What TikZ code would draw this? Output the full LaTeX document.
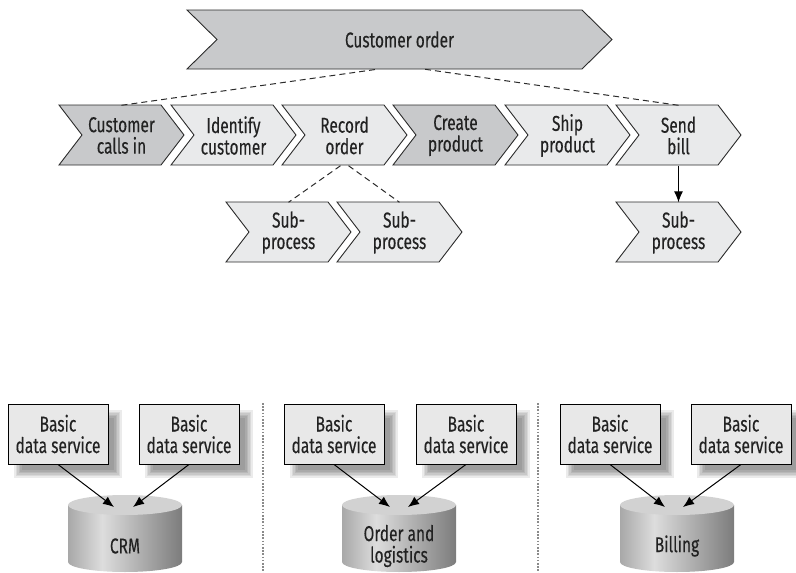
\documentclass[tikz,border=0pt]{standalone}
\usepackage{fontspec}
\setmainfont[FakeStretch=0.72,FakeBold=0.25]{Fira Sans}
\usetikzlibrary{arrows.meta}
\definecolor{chevdark}{HTML}{C8C9CB}
\definecolor{chevlight}{HTML}{E9EAEB}
\definecolor{boxfill}{HTML}{E8E8E8}
\definecolor{lineclr}{HTML}{2B2B2B}
\definecolor{txtclr}{HTML}{222222}
\definecolor{cylA}{HTML}{A8A8A8}
\definecolor{cylB}{HTML}{DDDDDD}
\definecolor{cylC}{HTML}{7C7C7C}
\definecolor{cyltop}{HTML}{D2D2D2}
\definecolor{sepclr}{HTML}{8A8A8A}
\pgfdeclarehorizontalshading{cylbody}{100bp}{color(0bp)=(cylA); color(25bp)=(cylA); color(40bp)=(cylB); color(75bp)=(cylC); color(100bp)=(cylC)}
\tikzset{
  chevline/.style={draw=lineclr, line width=0.9pt, line join=miter},
  labelfont/.style={font=\fontsize{21.5}{21.5}\selectfont, text=txtclr},
  chevtext/.style={labelfont, align=center, inner sep=0pt, minimum width=79pt, minimum height=60pt},
  dashline/.style={draw=lineclr, line width=1pt, dash pattern=on 6pt off 4pt},
  arrowline/.style={draw=black, line width=1pt, -{Latex[length=11pt,width=9pt]}},
  dbox/.style={labelfont, draw=black, fill=boxfill, line width=0.9pt, align=center, inner sep=0pt, minimum width=100pt, minimum height=60pt},
  cyltext/.style={labelfont, align=center, inner sep=0pt},
  sepline/.style={draw=sepclr, line width=1.6pt, dash pattern=on 1.6pt off 1.6pt}
}
% chevron: name, left x, top y, fill, text
\newcommand\chev[5]{%
  \filldraw[chevline,fill=#4] (#2,#3) -- ++(102,0) -- ++(23,30) -- ++(-23,30) -- ++(-102,0) -- ++(23,-30) -- cycle;
  \node[chevtext] (#1) at ({#2+62.5},{#3+30.5}) {#5};}
% data service box with soft shadow: name, cx, cy
\newcommand\dsbox[3]{%
  \foreach \e in {4,2.4,0.8,-0.8,-2.4,-4}{%
    \fill[black, opacity=0.08] ({#2-50+10-\e},{#3-30+10-\e}) rectangle ({#2+50+10+\e},{#3+30+10+\e});}
  \node[dbox] (#1) at (#2,#3) {Basic\\data service};}
% cylinder: name, cx, text
\newcommand\dbcyl[3]{%
  \shade[shading=cylbody] ({#2-57},505) -- ({#2-57},562)
     .. controls ({#2-57},567.5) and ({#2-31.5},572) .. (#2,572)
     .. controls ({#2+31.5},572) and ({#2+57},567.5) .. ({#2+57},562)
     -- ({#2+57},505) -- cycle;
  \fill[cyltop] (#2,505) ellipse [x radius=57pt, y radius=10pt];
  \coordinate (#1top) at (#2,507);
  \node[cyltext] (#1) at (#2,546) {#3};}

\begin{document}
\begin{tikzpicture}[x=1pt,y=-1pt]
\useasboundingbox (0,0) rectangle (796,573);
% top chevron
\filldraw[chevline,fill=chevdark] (187,10) -- (582,10) -- (612,39.5) -- (582,69) -- (187,69) -- (217,39.5) -- cycle;
\node[chevtext, minimum width=365pt, minimum height=59pt] (order) at (399.5,39.5) {Customer order};
% process row
\chev{calls}{59}{105}{chevdark}{Customer\\calls in}
\chev{ident}{171}{105}{chevlight}{Identify\\customer}
\chev{record}{282}{105}{chevlight}{Record\\order}
\chev{create}{393}{105}{chevdark}{Create\\product}
\chev{ship}{505}{105}{chevlight}{Ship\\product}
\chev{bill}{616}{105}{chevlight}{Send\\bill}
% sub-processes
\chev{subA}{226}{202}{chevlight}{Sub-\\process}
\chev{subB}{337}{202}{chevlight}{Sub-\\process}
\chev{subC}{616}{202}{chevlight}{Sub-\\process}
% connectors
\draw[dashline] (calls.north) -- ([xshift=-22pt]order.south);
\draw[dashline] (bill.north) -- ([xshift=25pt]order.south);
\draw[dashline] ([xshift=-4pt]record.south) -- (subA.north);
\draw[dashline] ([xshift=4pt]record.south) -- (subB.north);
\draw[arrowline] (bill.south) -- (subC.north);
% separators
\coordinate (sep1top) at (263,403);
\coordinate (sep1bot) at (263,573);
\coordinate (sep2top) at (538,403);
\coordinate (sep2bot) at (538,573);
\draw[sepline] (sep1top) -- (sep1bot);
\draw[sepline] (sep2top) -- (sep2bot);
% cylinders
\dbcyl{crm}{125}{CRM}
\dbcyl{ord}{399}{Order and\\logistics}
\dbcyl{billing}{677}{Billing}
% boxes
\dsbox{b1}{58}{434}
\dsbox{b2}{189}{434}
\dsbox{b3}{334}{434}
\dsbox{b4}{466}{434}
\dsbox{b5}{610}{434}
\dsbox{b6}{741}{434}
% arrows
\draw[arrowline] (b1.south) -- ([xshift=-11pt]crmtop);
\draw[arrowline] (b2.south) -- ([xshift=8pt]crmtop);
\draw[arrowline] (b3.south) -- ([xshift=-9pt]ordtop);
\draw[arrowline] (b4.south) -- ([xshift=9pt]ordtop);
\draw[arrowline] (b5.south) -- ([xshift=-12pt]billingtop);
\draw[arrowline] (b6.south) -- ([xshift=6pt]billingtop);
\end{tikzpicture}
\end{document}
